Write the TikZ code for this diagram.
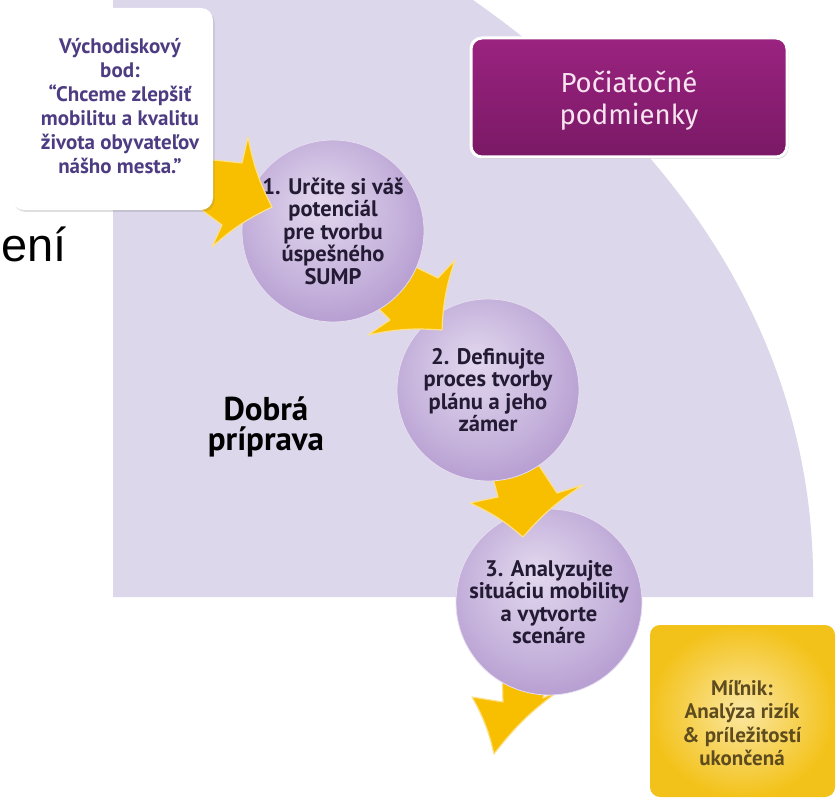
\documentclass[tikz,border=0pt]{standalone}
\usepackage{fontspec}
\setmainfont{PT Sans}
\newfontfamily\firafont{Fira Sans}
\newfontfamily\arialfont{Liberation Sans}
\usetikzlibrary{shadows}
\definecolor{lav}{HTML}{DCD7EB}
\definecolor{boxtext}{HTML}{4E3C82}
\definecolor{goldarrow}{HTML}{F7BF00}
\definecolor{goldedge}{HTML}{FCE08A}
\definecolor{magtop}{HTML}{9A2380}
\definecolor{magbot}{HTML}{7A1965}
\definecolor{magtext}{HTML}{F7E4F0}
\definecolor{goldin}{HTML}{FBE7A2}
\definecolor{goldout}{HTML}{F3C21A}
\definecolor{goldtext}{HTML}{5E4B1E}
\definecolor{circtext}{HTML}{231A33}
\definecolor{sph0}{HTML}{E2D8EE}
\definecolor{sph1}{HTML}{C6B3DC}
\definecolor{sph2}{HTML}{A385C4}
\definecolor{sph3}{HTML}{7E5BA3}
\definecolor{circrim}{HTML}{E6DDF0}
\pgfdeclareradialshading{sphere}{\pgfpoint{-4bp}{8bp}}{color(0bp)=(sph0); color(20bp)=(sph1); color(40bp)=(sph2); color(50bp)=(sph3)}
\tikzset{
  arrowshape/.style={fill=goldarrow, draw=goldedge, line width=1.2pt, line join=round},
  stepcirc/.style={circle, shading=sphere, draw=circrim, line width=0.8pt, minimum size=#1, inner sep=0pt,
    align=center, text=circtext, font=\bfseries\fontsize{22.5}{22.5}\selectfont},
  boxtextstyle/.style={align=center, text=boxtext, font=\bfseries\fontsize{21}{24}\selectfont},
}
\begin{document}
\begin{tikzpicture}[x=1pt,y=-1pt]
\useasboundingbox (0,0) rectangle (836,805);
\fill[white] (0,0) rectangle (836,805);
% lavender background
\fill[lav] (113,0) -- (113,597) -- (813,597) .. controls (818,380) and (715,170) .. (473,0) -- cycle;
% partial title text
\node[anchor=base west, inner sep=0pt, font=\arialfont\fontsize{47}{47}\selectfont] (title) at (1,262) {ení};
% Dobra priprava
\node[align=center, inner sep=0pt, text=black, font=\bfseries\fontsize{33}{30}\selectfont] (dobra) at (266,427) {Dobrá\\príprava};
% arrow 4 (below circle 3)
\draw[arrowshape] (502,670) -- (503,702) -- (472,697) to[bend left=8] (494,754) to[bend left=8] (560,690) -- (543,698) -- (550,670) -- cycle;
\node[stepcirc=186pt] (c3) at (549,602) {3. Analyzujte\\situáciu mobility\\a vytvorte\\scenáre};
% arrow 3
\draw[arrowshape] (487,455) -- (498,497) -- (470,503) to[bend left=8] (523,537) to[bend left=8] (583,485) -- (557,493) -- (532,455) -- cycle;
\node[stepcirc=182pt] (c2) at (488,390) {2. Definujte\\proces tvorby\\plánu a jeho\\zámer};
% arrow 2
\draw[arrowshape] (405,262) -- (438,278) -- (455,260) to[bend right=8] (442,330) to[bend right=8] (368,335) -- (390,320) -- (370,300) -- cycle;
\node[stepcirc=182pt] (c1) at (333,231) {1. Určite si váš\\potenciál\\pre tvorbu\\úspešného\\SUMP};
% arrow 1
\draw[arrowshape] (195,158) -- (242,163) -- (248,137) to[bend right=8] (272,207) to[bend right=8] (212,247) -- (222,225) -- (195,205) -- cycle;
% white start box
\fill[white, rounded corners=12pt, drop shadow={opacity=0.25, shadow xshift=1.5pt, shadow yshift=-2pt}] (12,8) rectangle (213,210);
\node[boxtextstyle] (start) at (120,106) {Východiskový\\bod:\\“Chceme zlepšiť\\mobilitu a kvalitu\\života obyvateľov\\nášho mesta.”};
% magenta box
\node[rounded corners=11pt, top color=magtop, bottom color=magbot, draw=white, line width=3pt,
  minimum width=316pt, minimum height=119pt,
  drop shadow={opacity=0.3, shadow xshift=1.5pt, shadow yshift=-2pt}] (pm) at (629,97.5) {};
\node[align=center, text=magtext, font=\firafont\fontsize{27.5}{32}\selectfont] (pmtext) at (629,100) {Počiatočné\\podmienky};
% gold milestone box
\node[rounded corners=10pt, inner color=goldin, outer color=goldout,
  minimum width=185pt, minimum height=172pt] (mil) at (742.5,711) {};
\node[align=center, text=goldtext, font=\bfseries\fontsize{21}{23.5}\selectfont] (miltext) at (742,723) {Míľnik:\\Analýza rizík\\\& príležitostí\\ukončená};
\end{tikzpicture}
\end{document}
